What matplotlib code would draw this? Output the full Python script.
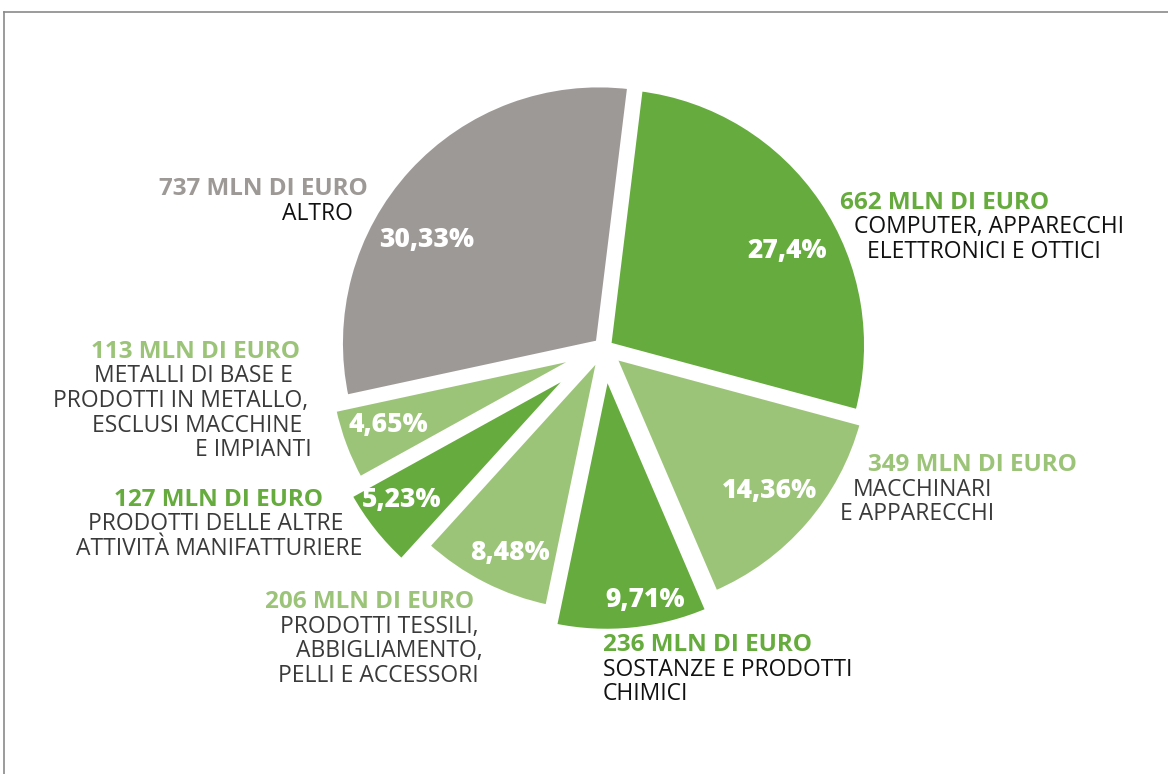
import matplotlib
matplotlib.use("Agg")
import matplotlib.pyplot as plt
from matplotlib.lines import Line2D

plt.rcParams["font.family"] = ["Open Sans", "DejaVu Sans"]

# ---- dati (milioni di euro), ordine orario dall'alto ----
categories = [
    "COMPUTER, APPARECCHI\nELETTRONICI E OTTICI",
    "MACCHINARI\nE APPARECCHI",
    "SOSTANZE E PRODOTTI\nCHIMICI",
    "PRODOTTI TESSILI,\nABBIGLIAMENTO,\nPELLI E ACCESSORI",
    "PRODOTTI DELLE ALTRE\nATTIVITÀ MANIFATTURIERE",
    "METALLI DI BASE E\nPRODOTTI IN METALLO,\nESCLUSI MACCHINE\nE IMPIANTI",
    "ALTRO",
]
values_mln = [662, 349, 236, 206, 127, 113, 737]
pct_labels = ["27,4%", "14,36%", "9,71%", "8,48%", "5,23%", "4,65%", "30,33%"]

DARK = "#66ab3d"
LIGHT = "#9cc479"
GREY = "#9d9996"
colors = [DARK, LIGHT, DARK, LIGHT, DARK, LIGHT, GREY]
text_colors = ["#111111", "#3a3a3a", "#111111", "#3a3a3a", "#3a3a3a", "#3a3a3a", "#111111"]

W, H = 1168, 774
fig = plt.figure(figsize=(W / 100, H / 100), dpi=100)
ax = fig.add_axes([0, 0, 1, 1])

# spostamento di ogni spicchio dal centro (pixel)
explode_px = [5, 12, 25, 7, 36, 19, 7]

cx, cy, R = 604, H - 348, 259
wedges, _ = ax.pie(
    values_mln,
    colors=colors,
    startangle=83,
    counterclock=False,
    radius=R,
    center=(cx, cy),
    explode=explode_px,
    wedgeprops=dict(edgecolor="white", linewidth=4.5),
)
ax.set_xlim(0, W)
ax.set_ylim(0, H)
ax.set_aspect("equal")
ax.axis("off")

# percentuali dentro gli spicchi (posizioni in pixel immagine)
pct_pos = [(787, 251), (769, 491), (645, 600), (510, 553), (402, 500), (388, 425), (427, 240)]
for lab, (px, py) in zip(pct_labels, pct_pos):
    ax.text(px, H - py, lab, ha="center", va="center", color="white",
            fontsize=19, fontweight="heavy")

# etichette esterne: (x, y, ha) della prima riga, poi righe successive
LINE = 24.5
blocks = [
    (840, 203, "left", [854, 867]),
    (868, 465, "left", [853, 840]),
    (603, 645, "left", [603, 603]),
    (474, 602, "right", [478, 483, 479]),
    (323, 500, "right", [343, 362]),
    (300, 352, "right", [293, 308, 302, 312]),
    (368, 189, "right", [353]),
]
for i, (bx, by, ha, line_x) in enumerate(blocks):
    ax.text(bx, H - by, f"{values_mln[i]} MLN DI EURO", ha=ha, va="center",
            color=colors[i], fontsize=17.5, fontweight="bold")
    for j, line in enumerate(categories[i].split("\n")):
        ax.text(line_x[j], H - (by + LINE * (j + 1)), line, ha=ha, va="center",
                color=text_colors[i], fontsize=16.5)

# cornice sottile (alto e sinistra)
fig.add_artist(Line2D([4 / W, 1], [1 - 12 / H, 1 - 12 / H], color="#8a8a8a", lw=1.2))
fig.add_artist(Line2D([4 / W, 4 / W], [0, 1 - 12 / H], color="#8a8a8a", lw=1.2))

fig.savefig("out.png", dpi=100, facecolor="white")
